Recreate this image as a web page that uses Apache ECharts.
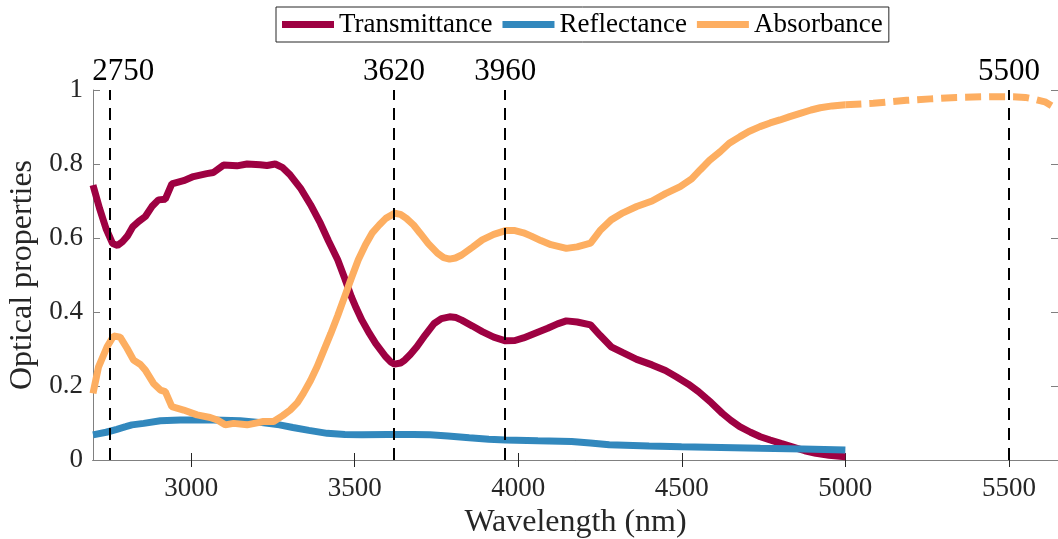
<!DOCTYPE html>
<html>
<head>
<meta charset="utf-8">
<script src="https://cdn.jsdelivr.net/npm/echarts@6/dist/echarts.min.js"></script>
<style>
  html, body { margin: 0; padding: 0; background: #fff; }
  #chart { width: 1058px; height: 539px; }
</style>
</head>
<body>
<div id="chart"></div>
<script>
// wavelengths (nm) and values
const transX = [2700, 2720, 2740, 2760, 2775, 2790, 2805, 2822, 2840, 2860, 2880, 2900, 2921, 2941, 2977, 3007, 3048, 3068, 3099, 3140, 3171, 3211, 3232, 3257, 3280, 3303, 3334, 3365, 3395, 3420, 3448, 3470, 3490, 3505, 3522, 3545, 3564, 3595, 3610, 3622, 3640, 3653, 3670, 3690, 3715, 3743, 3765, 3790, 3810, 3827, 3860, 3890, 3925, 3961, 3990, 4016, 4050, 4090, 4120, 4147, 4180, 4221, 4250, 4284, 4320, 4362, 4409, 4450, 4483, 4520, 4551, 4590, 4624, 4650, 4677, 4710, 4740, 4770, 4803, 4840, 4876, 4910, 4950, 5000];
const transY = [0.743, 0.680, 0.625, 0.585, 0.580, 0.590, 0.605, 0.631, 0.645, 0.658, 0.685, 0.703, 0.705, 0.746, 0.755, 0.766, 0.774, 0.777, 0.797, 0.795, 0.800, 0.798, 0.796, 0.800, 0.790, 0.770, 0.735, 0.690, 0.640, 0.592, 0.541, 0.490, 0.441, 0.410, 0.378, 0.342, 0.315, 0.279, 0.265, 0.259, 0.262, 0.270, 0.285, 0.306, 0.337, 0.369, 0.382, 0.387, 0.385, 0.378, 0.362, 0.347, 0.332, 0.322, 0.323, 0.330, 0.342, 0.356, 0.368, 0.376, 0.373, 0.365, 0.337, 0.306, 0.290, 0.272, 0.257, 0.242, 0.225, 0.205, 0.185, 0.155, 0.126, 0.107, 0.090, 0.075, 0.063, 0.054, 0.045, 0.035, 0.025, 0.018, 0.013, 0.009];

const reflX = [2700, 2740, 2773, 2800, 2819, 2855, 2906, 2967, 3068, 3150, 3216, 3270, 3311, 3360, 3416, 3470, 3522, 3600, 3679, 3730, 3785, 3850, 3910, 3961, 4060, 4163, 4220, 4278, 4400, 4499, 4620, 4740, 4870, 5000];
const reflY = [0.068, 0.075, 0.083, 0.090, 0.095, 0.099, 0.106, 0.108, 0.108, 0.106, 0.101, 0.095, 0.088, 0.080, 0.072, 0.069, 0.068, 0.069, 0.069, 0.068, 0.065, 0.060, 0.056, 0.054, 0.052, 0.050, 0.046, 0.041, 0.038, 0.036, 0.034, 0.032, 0.030, 0.027];

const absX = [2700, 2717, 2743, 2763, 2783, 2804, 2824, 2845, 2860, 2885, 2906, 2921, 2941, 2977, 3018, 3058, 3080, 3104, 3130, 3171, 3221, 3252, 3280, 3303, 3325, 3343, 3365, 3385, 3405, 3427, 3448, 3469, 3490, 3511, 3533, 3553, 3575, 3595, 3622, 3640, 3658, 3680, 3700, 3725, 3753, 3772, 3790, 3808, 3827, 3860, 3890, 3925, 3961, 3990, 4016, 4040, 4069, 4100, 4147, 4180, 4221, 4250, 4284, 4320, 4362, 4409, 4450, 4495, 4530, 4556, 4585, 4617, 4645, 4678, 4705, 4739, 4770, 4800, 4830, 4862, 4895, 4923, 4960, 5000];
const absY = [0.180, 0.252, 0.306, 0.335, 0.332, 0.302, 0.270, 0.258, 0.243, 0.207, 0.189, 0.185, 0.144, 0.135, 0.122, 0.115, 0.108, 0.095, 0.099, 0.095, 0.104, 0.104, 0.120, 0.135, 0.155, 0.180, 0.215, 0.252, 0.295, 0.342, 0.390, 0.441, 0.492, 0.541, 0.582, 0.613, 0.635, 0.653, 0.667, 0.664, 0.653, 0.635, 0.613, 0.585, 0.559, 0.547, 0.543, 0.546, 0.554, 0.575, 0.595, 0.610, 0.620, 0.620, 0.614, 0.605, 0.593, 0.582, 0.572, 0.576, 0.586, 0.620, 0.649, 0.668, 0.685, 0.700, 0.720, 0.739, 0.760, 0.784, 0.810, 0.833, 0.856, 0.874, 0.888, 0.901, 0.911, 0.919, 0.928, 0.937, 0.946, 0.952, 0.957, 0.960];

// extrapolated part of absorbance (dashed)
const absExtX = [5000, 5085, 5187, 5260, 5340, 5442, 5513, 5550, 5574, 5610, 5635, 5650];
const absExtY = [0.960, 0.964, 0.972, 0.976, 0.980, 0.982, 0.982, 0.980, 0.976, 0.968, 0.955, 0.945];

const markers = [2750, 3620, 3960, 5500];
const bottomTicks = [3000, 3500, 4000, 4500, 5000, 5500];

const zip = (xs, ys) => xs.map((x, i) => [x, ys[i]]);

const font = "Liberation Serif";
const dark = "#262626";
const grey = "#808080";

const chart = echarts.init(document.getElementById("chart"));

const option = {
  animation: false,
  textStyle: { fontFamily: font },
  legend: {
    data: ["Transmittance", "Reflectance", "Absorbance"],
    left: 276,
    top: 7,
    padding: [4, 6, 4, 6],
    itemGap: 10,
    itemWidth: 52,
    itemHeight: 7,
    icon: "rect",
    borderColor: dark,
    borderWidth: 1,
    textStyle: { fontFamily: font, fontSize: 27, color: "#000" },
  },
  grid: { left: 93, right: 0, top: 90, bottom: 79, outerBoundsMode: "none" },
  xAxis: [
    {
      type: "value",
      position: "bottom",
      min: 2700,
      max: 5650,
      name: "Wavelength (nm)",
      nameLocation: "middle",
      nameGap: 46,
      nameTextStyle: { fontFamily: font, fontSize: 32, color: dark },
      axisLine: { lineStyle: { color: dark, width: 1 } },
      axisTick: { inside: true, length: 7, customValues: bottomTicks, lineStyle: { color: dark } },
      axisLabel: {
        customValues: bottomTicks,
        margin: 15,
        fontSize: 27,
        fontFamily: font,
        color: dark,
        formatter: (v) => String(v),
      },
      splitLine: { show: false },
    },
    {
      type: "value",
      position: "top",
      min: 2700,
      max: 5650,
      axisLine: { lineStyle: { color: grey, width: 1 } },
      axisTick: { inside: true, length: 7, customValues: bottomTicks, lineStyle: { color: dark } },
      axisLabel: {
        customValues: markers,
        margin: 3,
        fontSize: 31,
        fontFamily: font,
        color: "#000",
        formatter: (v) => (v === 2750 ? "{a|2750}" : String(v)),
        rich: { a: { fontSize: 31, fontFamily: font, color: "#000", padding: [0, 0, 0, 28] } },
      },
      splitLine: { show: false },
    },
  ],
  yAxis: [
    {
      type: "value",
      min: 0,
      max: 1,
      interval: 0.2,
      name: "Optical properties",
      nameLocation: "middle",
      nameGap: 53,
      nameTextStyle: { fontFamily: font, fontSize: 32, color: dark },
      axisLine: { show: true, lineStyle: { color: grey } },
      axisTick: { show: true, inside: true, length: 7, lineStyle: { color: grey } },
      axisLabel: { margin: 10, fontSize: 27, fontFamily: font, color: dark },
      splitLine: { show: false },
    },
    {
      type: "value",
      position: "right",
      min: 0,
      max: 1,
      interval: 0.2,
      axisLine: { show: true, lineStyle: { color: grey } },
      axisTick: { show: true, inside: true, length: 7, lineStyle: { color: grey } },
      axisLabel: { show: false },
      splitLine: { show: false },
    },
  ],
  series: [
    {
      name: "Transmittance",
      type: "line",
      data: zip(transX, transY),
      showSymbol: false,
      color: "#9E0142",
      lineStyle: { width: 7, color: "#9E0142" },
      markLine: {
        silent: true,
        symbol: "none",
        label: { show: false },
        lineStyle: { color: "#000", width: 2, type: [12, 8] },
        data: markers.map((m) => ({ xAxis: m })),
      },
    },
    {
      name: "Reflectance",
      type: "line",
      data: zip(reflX, reflY),
      showSymbol: false,
      color: "#3288BD",
      lineStyle: { width: 7, color: "#3288BD" },
    },
    {
      name: "Absorbance",
      type: "line",
      data: zip(absX, absY),
      showSymbol: false,
      color: "#FDAE61",
      lineStyle: { width: 7, color: "#FDAE61" },
    },
    {
      name: "Absorbance",
      type: "line",
      data: zip(absExtX, absExtY),
      showSymbol: false,
      color: "#FDAE61",
      lineStyle: { width: 7, color: "#FDAE61", type: [16, 8] },
    },
  ],
};

chart.setOption(option);
</script>
</body>
</html>
